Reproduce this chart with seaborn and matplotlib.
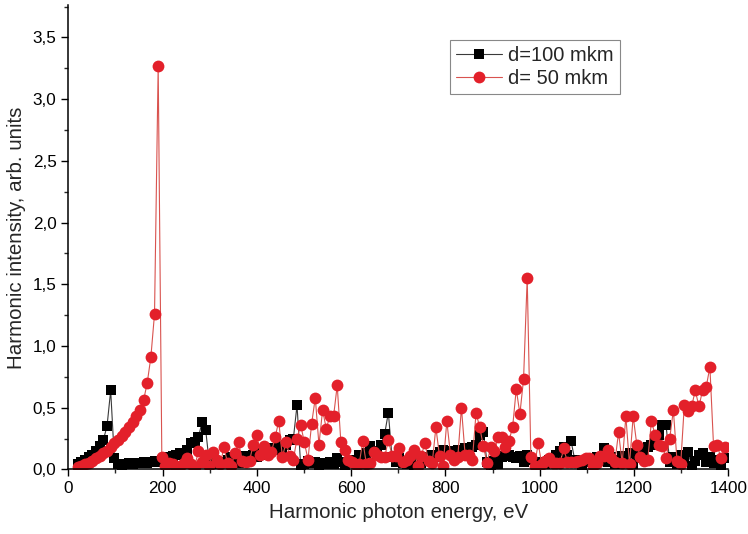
import numpy as np
import pandas as pd
import matplotlib
matplotlib.use("Agg")
import matplotlib.pyplot as plt
from matplotlib.ticker import MultipleLocator, FuncFormatter
import seaborn as sns

# Harmonic photon energies (eV): harmonic grid, 7.75 eV apart
energy = np.round(20.15 + 7.75 * np.arange(178), 2)

d100 = [0.04, 0.06, 0.08, 0.10, 0.12, 0.15, 0.19, 0.24, 0.35, 0.64,
        0.09, 0.04, 0.03, 0.04, 0.05, 0.04, 0.05, 0.05, 0.06, 0.05,
        0.06, 0.07, 0.06, 0.08, 0.06, 0.10, 0.11, 0.12, 0.13, 0.12,
        0.16, 0.21, 0.22, 0.26, 0.38, 0.32, 0.05, 0.09, 0.04, 0.06,
        0.05, 0.08, 0.10, 0.07, 0.05, 0.09, 0.11, 0.08, 0.12, 0.10,
        0.13, 0.12, 0.15, 0.17, 0.16, 0.19, 0.17, 0.20, 0.24, 0.25,
        0.52, 0.03, 0.04, 0.07, 0.05, 0.06, 0.03, 0.05, 0.04, 0.06,
        0.04, 0.09, 0.06, 0.03, 0.05, 0.08, 0.06, 0.12, 0.09, 0.13,
        0.19, 0.15, 0.12, 0.20, 0.29, 0.46, 0.10, 0.06, 0.09, 0.05,
        0.04, 0.08, 0.03, 0.06, 0.05, 0.10, 0.08, 0.12, 0.10, 0.14,
        0.16, 0.13, 0.15, 0.14, 0.16, 0.15, 0.17, 0.16, 0.18, 0.20,
        0.28, 0.30, 0.06, 0.03, 0.07, 0.04, 0.10, 0.11, 0.12, 0.10,
        0.09, 0.11, 0.06, 0.12, 0.08, 0.05, 0.03, 0.06, 0.04, 0.08,
        0.09, 0.12, 0.15, 0.18, 0.12, 0.23, 0.08, 0.05, 0.03, 0.06,
        0.08, 0.05, 0.10, 0.07, 0.17, 0.06, 0.10, 0.04, 0.08, 0.11,
        0.06, 0.13, 0.04, 0.09, 0.12, 0.15, 0.18, 0.20, 0.24, 0.28,
        0.36, 0.36, 0.06, 0.10, 0.04, 0.12, 0.08, 0.14, 0.03, 0.07,
        0.12, 0.13, 0.06, 0.10, 0.05, 0.08, 0.03, 0.09]

d50 = [0.02, 0.03, 0.04, 0.05, 0.07, 0.09, 0.11, 0.13, 0.15, 0.18,
       0.21, 0.24, 0.27, 0.30, 0.34, 0.38, 0.43, 0.48, 0.56, 0.70,
       0.91, 1.26, 3.27, 0.10, 0.03, 0.05, 0.04, 0.02, 0.03, 0.05,
       0.09, 0.04, 0.02, 0.15, 0.06, 0.12, 0.03, 0.14, 0.08, 0.04,
       0.18, 0.05, 0.03, 0.13, 0.22, 0.07, 0.06, 0.07, 0.20, 0.28,
       0.12, 0.19, 0.12, 0.14, 0.26, 0.39, 0.10, 0.22, 0.11, 0.08,
       0.25, 0.36, 0.22, 0.08, 0.37, 0.58, 0.20, 0.48, 0.33, 0.43,
       0.43, 0.68, 0.22, 0.16, 0.08, 0.06, 0.04, 0.04, 0.23, 0.04,
       0.05, 0.14, 0.12, 0.10, 0.10, 0.24, 0.11, 0.11, 0.17, 0.06,
       0.08, 0.11, 0.16, 0.03, 0.11, 0.21, 0.07, 0.05, 0.34, 0.11,
       0.03, 0.39, 0.12, 0.08, 0.10, 0.50, 0.12, 0.12, 0.08, 0.46,
       0.34, 0.19, 0.05, 0.18, 0.15, 0.26, 0.26, 0.18, 0.23, 0.34,
       0.65, 0.45, 0.73, 1.55, 0.10, 0.03, 0.21, 0.04, 0.07, 0.09,
       0.05, 0.05, 0.05, 0.17, 0.06, 0.06, 0.06, 0.07, 0.08, 0.09,
       0.09, 0.03, 0.05, 0.11, 0.11, 0.16, 0.09, 0.06, 0.30, 0.05,
       0.43, 0.04, 0.43, 0.20, 0.10, 0.07, 0.08, 0.39, 0.28, 0.20,
       0.19, 0.09, 0.25, 0.48, 0.07, 0.04, 0.52, 0.47, 0.51, 0.64,
       0.51, 0.64, 0.67, 0.83, 0.19, 0.20, 0.09, 0.18]

labels = ["d=100 mkm", "d= 50 mkm"]
x_ticks = [0, 200, 400, 600, 800, 1000, 1200, 1400]
y_ticks = [0.0, 0.5, 1.0, 1.5, 2.0, 2.5, 3.0, 3.5]

df = pd.DataFrame({"energy": energy, "d100": d100, "d50": d50})

sns.set_style("ticks")
plt.rcParams["font.family"] = ["Liberation Sans", "DejaVu Sans"]

fig = plt.figure(figsize=(7.48, 5.34), dpi=100)
ax = fig.add_axes([0.0913, 0.121, 0.8824, 0.869])

sns.lineplot(data=df, x="energy", y="d100", ax=ax, color="#3a3a3a", linewidth=0.8,
             marker="s", markersize=6.8, markerfacecolor="black", markeredgecolor="black",
             markeredgewidth=0, label=labels[0], sort=False)
sns.lineplot(data=df, x="energy", y="d50", ax=ax, color="#d9534f", linewidth=0.8,
             marker="o", markersize=8.5, markerfacecolor="#e3202a", markeredgecolor="#e3202a",
             markeredgewidth=0, label=labels[1], sort=False)

ax.set_xlim(0, 1400)
ax.set_ylim(0, 3.76)
ax.set_xticks(x_ticks)
ax.set_yticks(y_ticks)
ax.xaxis.set_minor_locator(MultipleLocator(100))
ax.yaxis.set_minor_locator(MultipleLocator(0.25))
ax.yaxis.set_major_formatter(FuncFormatter(lambda v, p: f"{v:.1f}".replace(".", ",")))
ax.tick_params(axis="both", which="major", direction="out", length=5, width=1.0,
               labelsize=12.3, colors="black")
ax.tick_params(axis="both", which="minor", direction="out", length=3, width=1.0)
for s in ["top", "right"]:
    ax.spines[s].set_visible(False)
for s in ["left", "bottom"]:
    ax.spines[s].set_linewidth(1.1)
    ax.spines[s].set_color("black")

ax.set_xlabel("Harmonic photon energy, eV", fontsize=14.8, labelpad=5)
ax.set_ylabel("Harmonic intensity, arb. units", fontsize=14.8, labelpad=5)

leg = ax.legend(loc="upper left", bbox_to_anchor=(0.578, 0.925), fontsize=14.5,
                frameon=True, fancybox=False, edgecolor="#888888", framealpha=1,
                handlelength=2.3, borderpad=0.3, labelspacing=0.2, handletextpad=0.3,
                borderaxespad=0)
leg.get_frame().set_linewidth(0.8)

fig.savefig("out.png", dpi=100)
